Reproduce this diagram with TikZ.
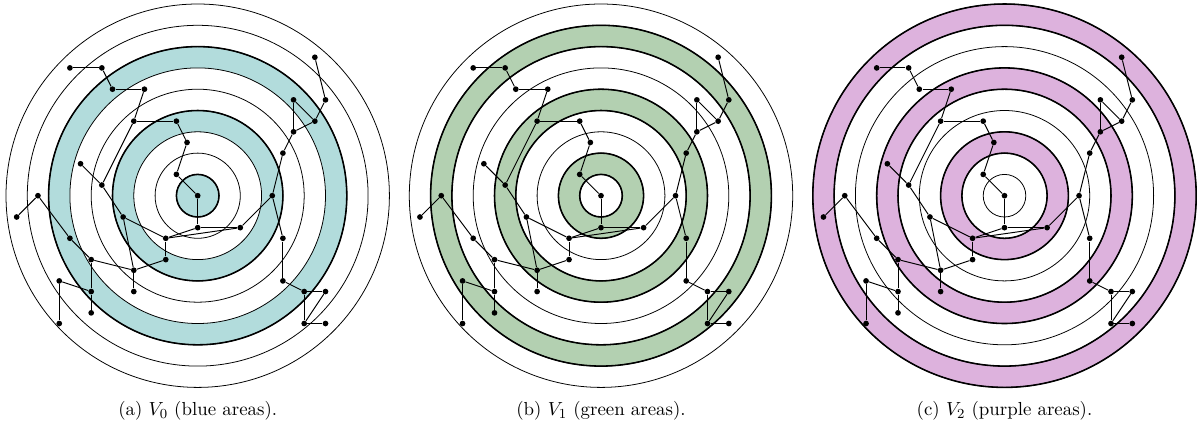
\documentclass[tikz,border=0pt]{standalone}
\usepackage{tikz}
\definecolor{ringblue}{RGB}{178,220,220}
\definecolor{ringgreen}{RGB}{179,208,177}
\definecolor{ringpurple}{RGB}{221,178,221}
\newcommand\ringunit{21.3}
\newcommand\halfu{10.65}
\newcommand\drawrings[2]{%
  % #1 colour, #2 first ring index
  \foreach \k in {0,3,6}{%
    \pgfmathsetmacro\ri{(#2+\k)*\ringunit}
    \pgfmathsetmacro\ro{(#2+\k+1)*\ringunit}
    \fill[#1,even odd rule] (0,0) circle[radius=\ro] circle[radius=\ri];
  }
  \foreach \i in {1,...,9}{\draw[thinc] (0,0) circle[radius=\i*\ringunit];}
  \foreach \k in {0,3,6}{%
    \pgfmathsetmacro\ro{(#2+\k+1)*\ringunit}
    \draw[thickc] (0,0) circle[radius=\ro];
    \ifnum#2=0 \else
      \pgfmathsetmacro\ri{(#2+\k)*\ringunit}
      \draw[thickc] (0,0) circle[radius=\ri];
    \fi
  }
}
\newcommand\drawgraph[1]{%
  \foreach \n/\hx/\hy in {C/0/0, a/-2/-2, b/-1/-5, c/-2/-7, d/-6/-7, e/-5/-10,
      f/-8/-10, g/-9/-12, h/-12/-12, i/-9/-1, j/-11/-3, k/-15/0, l/-17/2,
      m/-12/4, n/-10/6, o/-10/9, p/-10/11, q/-13/8, r/-13/12, s/-6/7, t/-6/9,
      u/-7/2, v/-3/4, w/-3/6, x/0/3, y/4/3, z/7/0, A/8/-4, B/9/-6, D/9/-9,
      E/11/-7, F/12/-9, G/11/-13, H/8/4, I/8/8, J/10/9, K/12/9, L/10/12, M/12/12}{%
    \node[vtx] (#1\n) at ({\hx*\halfu},{\hy*\halfu}) {};
  }
  \foreach \s/\t in {C/a, a/b, b/c, c/d, d/e, e/f, f/g, g/h, d/i, i/j, i/u,
      u/v, u/s, s/t, s/n, s/w, w/v, k/l, k/m, m/n, n/o, o/p, o/q, q/r,
      v/x, v/y, x/y, C/x, y/z, z/A, A/B, B/D, B/E, D/E, E/F, F/G, z/H,
      H/I, I/J, J/K, J/L, K/L, L/M}{%
    \draw[edge] (#1\s) -- (#1\t);
  }
}
\begin{document}
\begin{tikzpicture}[x=0.578pt,y=-0.578pt,
  thinc/.style={line width=0.45pt},
  thickc/.style={line width=0.9pt},
  edge/.style={line width=0.55pt},
  vtx/.style={circle,fill=black,inner sep=0pt,minimum size=3.3pt},
  caption/.style={font=\fontsize{10.9}{13}\selectfont}]
\useasboundingbox (0,0) rectangle (1203,436);
\begin{scope}[shift={(197.7,195.7)}]
  \drawrings{ringblue}{0}
  \drawgraph{a}
\end{scope}
\begin{scope}[shift={(601,195.7)}]
  \drawrings{ringgreen}{1}
  \drawgraph{b}
\end{scope}
\begin{scope}[shift={(1004.5,195.7)}]
  \drawrings{ringpurple}{2}
  \drawgraph{c}
\end{scope}
\node[caption] (capa) at (197.7,411) {(a) $V_0$ (blue areas).};
\node[caption] (capb) at (601,411) {(b) $V_1$ (green areas).};
\node[caption] (capc) at (1004.5,411) {(c) $V_2$ (purple areas).};
\end{tikzpicture}
\end{document}
